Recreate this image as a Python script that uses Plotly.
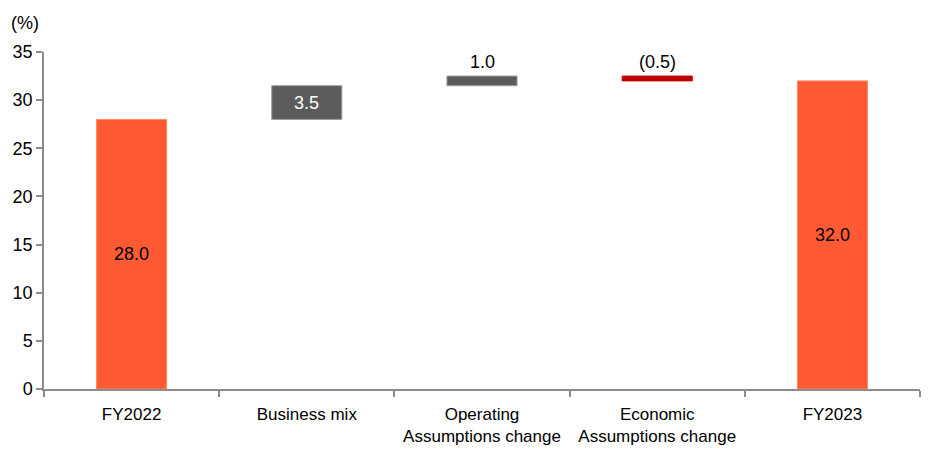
import plotly.graph_objects as go

categories = ["FY2022", "Business mix", "Operating<br>Assumptions change", "Economic<br>Assumptions change", "FY2023"]
changes = [28.0, 3.5, 1.0, -0.5, 32.0]
kinds = ["total", "delta", "delta", "delta", "total"]
label_texts = ["28.0", "3.5", "1.0", "(0.5)", "32.0"]
colors = ["#FF5A33", "#5B5B5D", "#5B5B5D", "#C00000", "#FF5A33"]
y_ticks = [0, 5, 10, 15, 20, 25, 30, 35]

bases, heights = [], []
running = 0.0
for v, k in zip(changes, kinds):
    if k == "total":
        bases.append(0.0)
        heights.append(v)
        running = v
    else:
        if v >= 0:
            bases.append(running)
            heights.append(v)
        else:
            bases.append(running + v)
            heights.append(-v)
        running += v

FONT = "Liberation Sans, Arial"

fig = go.Figure()
fig.add_trace(go.Bar(
    x=categories, y=heights, base=bases,
    marker=dict(color=colors, line=dict(color=["#FF8A6A", "#9A9A9A", "#9A9A9A", "#C00000", "#FF8A6A"], width=1)),
    width=0.4, hoverinfo="skip", showlegend=False,
))

for i, (c, t) in enumerate(zip(categories, label_texts)):
    top = bases[i] + heights[i]
    if kinds[i] == "total":
        fig.add_annotation(x=c, y=top / 2, text=t, showarrow=False,
                           font=dict(size=18, color="#000000", family=FONT))
    elif i == 1:
        fig.add_annotation(x=c, y=bases[i] + heights[i] / 2, text=t, showarrow=False,
                           font=dict(size=18, color="#FFFFFF", family=FONT))
    else:
        fig.add_annotation(x=c, y=top, text=t, showarrow=False, yanchor="bottom", yshift=2,
                           font=dict(size=18, color="#000000", family=FONT))

fig.add_annotation(xref="paper", yref="paper", x=-0.04, y=1.05, xanchor="left", yanchor="bottom",
                   text="(%)", showarrow=False, font=dict(size=18, color="#000000", family=FONT))

fig.update_layout(
    width=927, height=444,
    margin=dict(l=36, r=15, t=44, b=63),
    plot_bgcolor="white", paper_bgcolor="white",
    font=dict(family=FONT, size=17, color="#000000"),
)
fig.update_yaxes(range=[0, 35], tickvals=y_ticks, showgrid=False, zeroline=False,
                 showline=True, linecolor="#8C8C8C", linewidth=1.5,
                 ticks="outside", ticklen=6, tickcolor="#8C8C8C", tickwidth=1.5,
                 tickfont=dict(size=18, family=FONT), automargin=False)
fig.update_xaxes(range=[-0.5, 4.5], showgrid=False, showline=True, linecolor="#8C8C8C", linewidth=1.5,
                 ticks="outside", ticklen=6, tickcolor="#8C8C8C", tickwidth=1.5,
                 tickson="boundaries", tickfont=dict(size=17, family=FONT), automargin=False,
                 ticklabelstandoff=9)

fig.write_html("out.html")
